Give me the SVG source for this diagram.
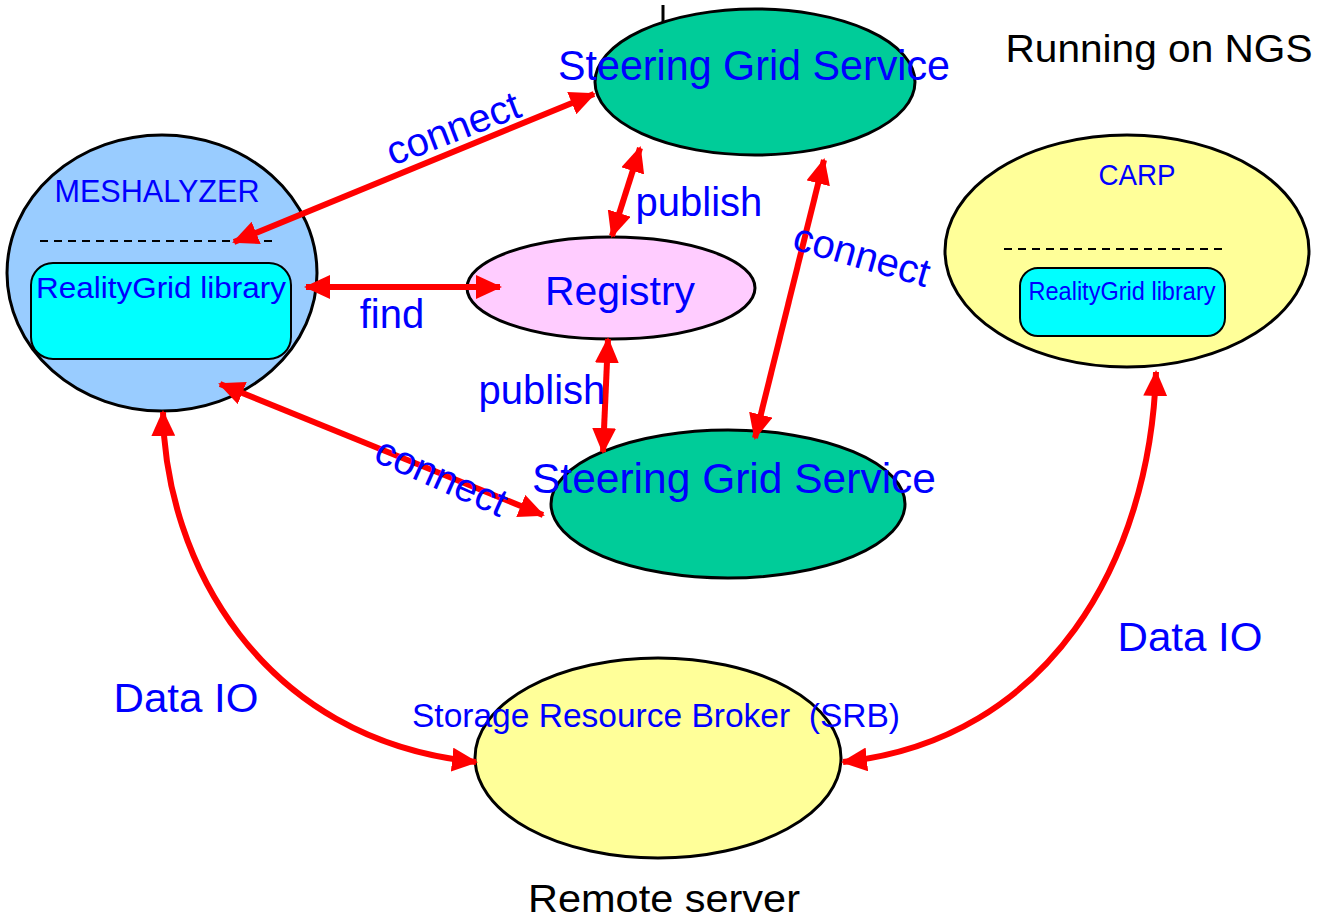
<svg xmlns="http://www.w3.org/2000/svg" width="1319" height="919" viewBox="0 0 1319 919">
<style>
text{font-family:"Liberation Sans",Arial,sans-serif;}
.b{fill:#0000FF;}
.k{fill:#000000;}
.node{stroke:#000;stroke-width:3;}
.lib{fill:#00FFFF;stroke:#000;stroke-width:2;}
.dash{stroke:#000;stroke-width:2;stroke-dasharray:8,6;fill:none;}
.c{stroke:#FF0000;stroke-width:6;fill:none;marker-start:url(#ah);marker-end:url(#ah);}
</style>
<defs>
<marker id="ah" markerUnits="userSpaceOnUse" viewBox="0 0 26 24" refX="24" refY="12" markerWidth="26" markerHeight="24" orient="auto-start-reverse">
<path d="M0,0 L26,12 L0,24 Z" fill="#FF0000"/>
</marker>
</defs>
<rect width="1319" height="919" fill="#FFFFFF"/>
<line x1="663" y1="5" x2="663" y2="32" stroke="#000" stroke-width="3"/>
<g id="sgs-top">
<ellipse class="node" cx="755" cy="82" rx="160" ry="73" fill="#00CC99"/>
<text class="b" x="754" y="80" font-size="42" text-anchor="middle" textLength="392" lengthAdjust="spacingAndGlyphs">Steering Grid Service</text>
</g>
<g id="meshalyzer">
<ellipse class="node" cx="162" cy="273" rx="155" ry="138" fill="#99CCFF"/>
<text class="b" x="157" y="202" font-size="32" text-anchor="middle" textLength="205" lengthAdjust="spacingAndGlyphs">MESHALYZER</text>
<line class="dash" x1="40" y1="241" x2="272" y2="241"/>
<rect class="lib" x="31" y="263" width="260" height="96" rx="22"/>
<text class="b" x="161" y="298" font-size="30" text-anchor="middle" textLength="250" lengthAdjust="spacingAndGlyphs">RealityGrid library</text>
</g>
<g id="registry">
<ellipse class="node" cx="611" cy="288" rx="144" ry="51" fill="#FFCCFF"/>
<text class="b" x="620" y="305" font-size="41" text-anchor="middle" textLength="150" lengthAdjust="spacingAndGlyphs">Registry</text>
</g>
<g id="sgs-bottom">
<ellipse class="node" cx="728" cy="504" rx="177" ry="74" fill="#00CC99"/>
<text class="b" x="734" y="493" font-size="42" text-anchor="middle" textLength="404" lengthAdjust="spacingAndGlyphs">Steering Grid Service</text>
</g>
<g id="carp">
<ellipse class="node" cx="1127" cy="251" rx="182" ry="116" fill="#FFFF99"/>
<text class="b" x="1137" y="185" font-size="30" text-anchor="middle" textLength="77" lengthAdjust="spacingAndGlyphs">CARP</text>
<line class="dash" x1="1004" y1="249" x2="1222" y2="249"/>
<rect class="lib" x="1020" y="268" width="205" height="68" rx="18"/>
<text class="b" x="1122" y="300" font-size="25" text-anchor="middle" textLength="187" lengthAdjust="spacingAndGlyphs">RealityGrid library</text>
</g>
<g id="srb">
<ellipse class="node" cx="658" cy="758" rx="183" ry="100" fill="#FFFF99"/>
<text class="b" x="656" y="727" font-size="33" text-anchor="middle" textLength="488" lengthAdjust="spacingAndGlyphs" xml:space="preserve">Storage Resource Broker  (SRB)</text>
</g>
<g id="connectors">
<line class="c" x1="234" y1="242" x2="594" y2="94"/>
<line class="c" x1="640" y1="148" x2="612" y2="236"/>
<line class="c" x1="306" y1="287" x2="500" y2="287"/>
<line class="c" x1="608" y1="339" x2="603" y2="452"/>
<line class="c" x1="824" y1="160" x2="755" y2="438"/>
<line class="c" x1="220" y1="384" x2="543" y2="515"/>
<path class="c" d="M163,412 C165,560 260,740 476,762"/>
<path class="c" d="M1156,372 C1150,560 1050,740 843,762"/>
</g>
<g id="labels">
<text class="b" x="458" y="141" font-size="40" text-anchor="middle" transform="rotate(-21 458 141)">connect</text>
<text class="b" x="699" y="216" font-size="40" text-anchor="middle">publish</text>
<text class="b" x="392" y="328" font-size="40" text-anchor="middle">find</text>
<text class="b" x="542" y="404" font-size="40" text-anchor="middle">publish</text>
<text class="b" x="858" y="268" font-size="40" text-anchor="middle" transform="rotate(16 858 268)">connect</text>
<text class="b" x="436" y="489" font-size="40" text-anchor="middle" transform="rotate(24 436 489)">connect</text>
<text class="b" x="186" y="712" font-size="40" text-anchor="middle" textLength="145" lengthAdjust="spacingAndGlyphs">Data IO</text>
<text class="b" x="1190" y="651" font-size="40" text-anchor="middle" textLength="145" lengthAdjust="spacingAndGlyphs">Data IO</text>
<text class="k" x="1159" y="62" font-size="39" text-anchor="middle" textLength="307" lengthAdjust="spacingAndGlyphs">Running on NGS</text>
<text class="k" x="664" y="912" font-size="38" text-anchor="middle" textLength="272" lengthAdjust="spacingAndGlyphs">Remote server</text>
</g>
</svg>
